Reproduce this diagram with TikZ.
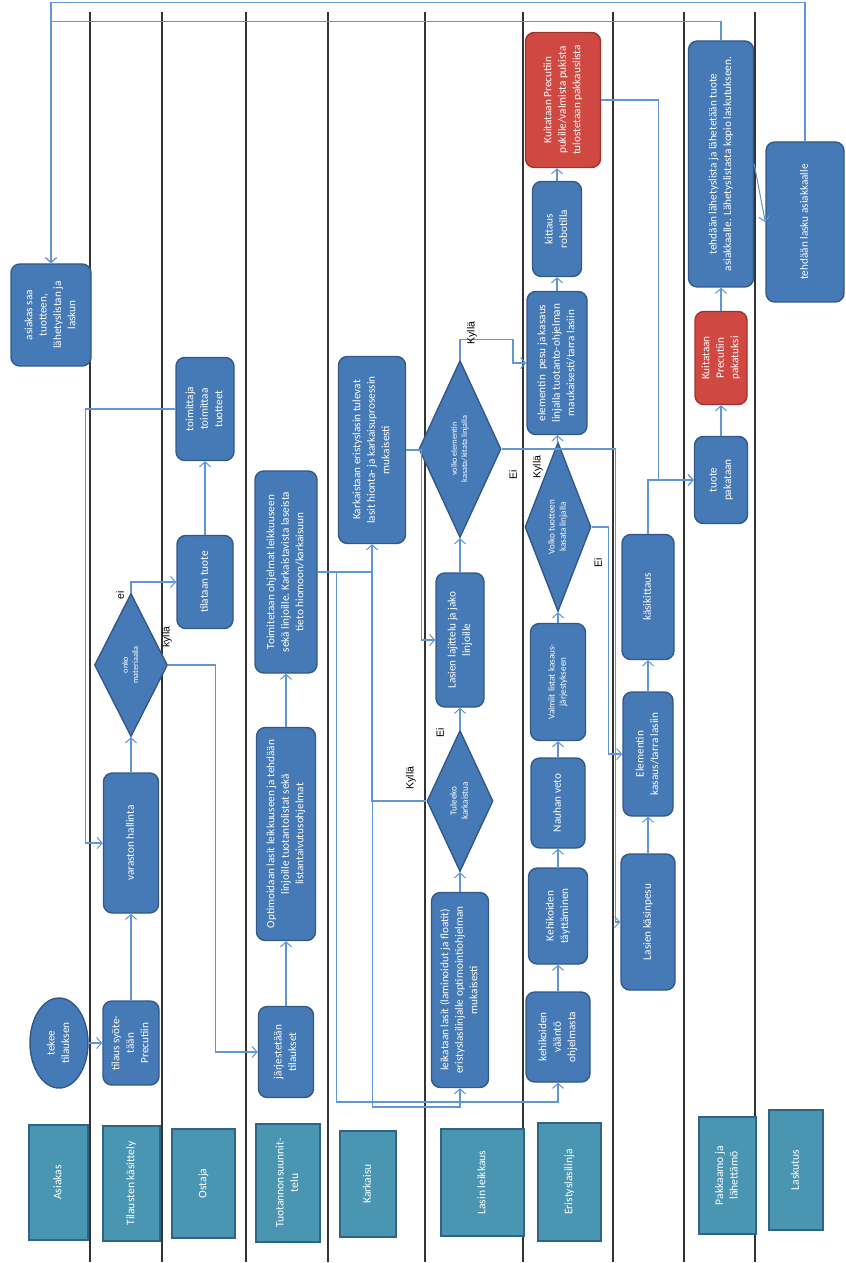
\documentclass[tikz,border=0pt]{standalone}
\usepackage{fontspec}
\setmainfont{Carlito}
\newfontfamily\lblfont{Liberation Sans}
\usepackage{graphicx}
\usetikzlibrary{shapes.geometric,arrows.meta}

\definecolor{procfill}{RGB}{70,122,182}
\definecolor{procline}{RGB}{50,88,138}
\definecolor{redfill}{RGB}{208,72,66}
\definecolor{redline}{RGB}{160,50,45}
\definecolor{lanefill}{RGB}{74,150,178}
\definecolor{laneline}{RGB}{48,100,132}
\definecolor{flowline}{RGB}{96,150,214}

\newcommand{\rt}[1]{\rotatebox{90}{\begin{tabular}{@{}c@{}}#1\end{tabular}}}

\tikzset{
  dims/.style 2 args={minimum width=#1*0.02cm, minimum height=#2*0.02cm},
  proc/.style={draw=procline, fill=procfill, line width=0.8pt, rounded corners=5pt, text=white, inner sep=1pt, font=\fontsize{6.4}{8.2}\selectfont},
  alert/.style={proc, draw=redline, fill=redfill},
  decision/.style={diamond, aspect=0.5, draw=procline, fill=procfill, line width=0.8pt, text=white, inner sep=0pt, font=\fontsize{5.2}{6.4}\selectfont},
  oval/.style={ellipse, draw=procline, fill=procfill, line width=0.8pt, text=white, inner sep=0pt, font=\fontsize{6.4}{8.2}\selectfont},
  lanehead/.style={draw=laneline, fill=lanefill, line width=1pt, text=white, inner sep=1pt, font=\fontsize{6.6}{8.2}\selectfont},
  lane/.style={draw=black!80, line width=0.7pt},
  flow/.style={draw=flowline, line width=0.6pt, ->},
  answer/.style={rotate=90, inner sep=0pt, font=\lblfont\fontsize{6}{7}\selectfont},
  tiny/.style={font=\fontsize{4.7}{5.8}\selectfont},
  small/.style={font=\fontsize{5.2}{6.4}\selectfont},
}

\begin{document}
\begin{tikzpicture}[x=0.02cm, y=-0.02cm, >={Straight Barb[length=1mm,width=2.2mm]}]
\useasboundingbox (0,0) rectangle (845,1263);

\foreach \lx in {90,162,246,328,425,523,613,684,755}
  \draw[lane] (\lx,12) -- (\lx,1262);

\node[lanehead, dims={59}{115}] (hAsiakas) at (58.5,1182.5) {\rt{Asiakas}};
\node[lanehead, dims={57}{115}] (hTilaus) at (131.5,1183.5) {\rt{Tilausten käsittely}};
\node[lanehead, dims={63}{109}] (hOstaja) at (203.5,1183.5) {\rt{Ostaja}};
\node[lanehead, dims={64}{118}] (hSuunnittelu) at (288,1183) {\rt{Tuotannonsuunnit-\\telu}};
\node[lanehead, dims={56}{106}] (hKarkaisu) at (368,1184) {\rt{Karkaisu}};
\node[lanehead, dims={83}{107}] (hLeikkaus) at (482.5,1182.5) {\rt{Lasin leikkaus}};
\node[lanehead, dims={63}{118}] (hEristys) at (569.5,1182) {\rt{Eristyslasilinja}};
\node[lanehead, dims={57}{117}] (hPakkaamo) at (727.5,1175.5) {\rt{Pakkaamo ja\\lähettämö}};
\node[lanehead, dims={54}{120}] (hLaskutus) at (796,1170) {\rt{Laskutus}};

\node[oval, dims={58}{90}] (tekee) at (59,1043) {\rt{tekee\\tilauksen}};
\node[proc, dims={56}{84}] (tilaus) at (131,1043) {\rt{tilaus syöte-\\tään\\Precutiin}};
\node[proc, dims={55}{140}] (varasto) at (131,843) {\rt{varaston hallinta}};
\node[decision, tiny, dims={73}{143}] (onko) at (131,665) {\rt{onko\\materiaalia}};
\node[proc, dims={56}{93}] (tilataan) at (205,582) {\rt{tilataan tuote}};
\node[proc, dims={58}{103}] (toimittaja) at (205,409) {\rt{toimittaja\\toimittaa\\tuotteet}};
\node[proc, dims={80}{102}] (asiakassaa) at (51,315) {\rt{asiakas saa\\tuotteen,\\lähetyslistan ja\\laskun}};

\node[proc, dims={55}{91}] (jarjestys) at (286,1052) {\rt{järjestetään\\tilaukset}};
\node[proc, dims={59}{213}] (optimointi) at (286,834) {\rt{Optimoidaan lasit leikkuuseen ja tehdään\\linjoille tuotantolistat sekä\\listantaivutusohjelmat}};
\node[proc, dims={62}{202}] (ohjelmat) at (286,572) {\rt{Toimitetaan ohjelmat leikkuuseen\\sekä linjoille. Karkaistavista laseista\\tieto hiomoon/karkaisuun}};
\node[proc, dims={67}{187}] (karkaisu) at (372,450) {\rt{Karkaistaan eristyslasin tulevat\\lasit hionta- ja karkaisuprosessin\\mukaisesti}};

\node[proc, dims={57}{195}] (leikkaus) at (460,990) {\rt{leikataan lasit (laminoidut ja floatit)\\eristyslasilinjalle optimointiohjelman\\mukaisesti}};
\node[decision, dims={66}{141}] (tuleeko) at (460,801) {\rt{Tuleeko\\karkaistua}};
\node[proc, dims={48}{134}] (lajittelu) at (460,640) {\rt{Lasien lajittelu ja jako\\linjoille}};
\node[decision, tiny, dims={82}{177}] (volkoelem) at (460,449) {\rt{volko elementin\\kasata/kitata linjalla}};

\node[proc, dims={64}{90}] (vaanto) at (558,1037) {\rt{kehikoiden\\vääntö\\ohjelmasta}};
\node[proc, dims={59}{96}] (taytto) at (558,916) {\rt{Kehikoiden\\täyttäminen}};
\node[proc, dims={54}{90}] (nauha) at (558,803) {\rt{Nauhan veto}};
\node[proc, small, dims={55}{117}] (listat) at (558,682) {\rt{Valmiit listat kasaus-\\järjestykseen}};
\node[decision, dims={66}{169}] (volkotuote) at (558,527) {\rt{Volko tuotteen\\kasata linjalla}};
\node[proc, dims={60}{143}] (pesu) at (557,363) {\rt{elementin\ \ pesu ja kasaus\\linjalla tuotanto-ohjelman\\maukaisesti/tarra lasiin}};
\node[proc, dims={49}{95}] (kittaus) at (557,229) {\rt{kittaus\\robotilla}};
\node[alert, dims={75}{135}] (pukki) at (563,100) {\rt{Kuitataan Precutiin\\pukille/valmista pukista\\tulostetaan pakkauslista}};

\node[proc, dims={54}{136}] (kasinpesu) at (648,922) {\rt{Lasien käsinpesu}};
\node[proc, dims={50}{124}] (kasaus) at (648,754) {\rt{Elementin\\kasaus/tarra lasiin}};
\node[proc, dims={52}{125}] (kasikittaus) at (648,597) {\rt{käsikittaus}};

\node[proc, dims={53}{87}] (pakataan) at (721,480) {\rt{tuote\\pakataan}};
\node[alert, dims={52}{93}] (pakatuksi) at (721,358) {\rt{Kuitataan\\Precutiin\\pakatuksi}};
\node[proc, dims={65}{246}] (lahetys) at (721,164) {\rt{tehdään lähetyslista ja lähetetään tuote\\asiakkaalle. Lähetyslistasta kopio laskutukseen.}};
\node[proc, dims={78}{160}] (lasku) at (805,222) {\rt{tehdään lasku asiakkaalle}};

\draw[flow] (tekee) -- (tilaus);
\draw[flow] (tilaus) -- (varasto);
\draw[flow] (varasto) -- (onko);
\draw[flow] (onko.north) |- (tilataan.west);
\draw[flow] (onko.east) -- ++(47,0) |- (jarjestys.west);
\draw[flow] (tilataan) -- (toimittaja);
\draw[flow] (toimittaja.west) -- ++(-90,0) |- (varasto.west);

\draw[flow] (jarjestys) -- (optimointi);
\draw[flow] (optimointi) -- (ohjelmat);
\draw[flow] (ohjelmat.east) -| ++(55,535) -| (leikkaus.south);
\draw[flow] (ohjelmat.east) -| ++(19,530) -| (vaanto.south);
\draw[flow] (tuleeko.west) -| (karkaisu.south);
\draw[flow] (leikkaus) -- (tuleeko);
\draw[flow] (tuleeko) -- (lajittelu);
\draw[flow] (karkaisu.east) -- ++(15,0) |- (lajittelu.west);
\draw[flow] (lajittelu) -- (volkoelem);
\draw[flow] (volkoelem.north) |- ++(53,-20) |- (pesu.west);
\draw[flow] (volkoelem.east) -- ++(114,0) |- (kasinpesu.west);

\draw[flow] (vaanto) -- (taytto);
\draw[flow] (taytto) -- (nauha);
\draw[flow] (nauha) -- (listat);
\draw[flow] (listat) -- (volkotuote);
\draw[flow] (volkotuote) -- (pesu);
\draw[flow] (volkotuote.east) -- ++(17,0) |- (kasaus.west);
\draw[flow] (pesu) -- (kittaus);
\draw[flow] (kittaus.north) -- (kittaus.north |- pukki.south);
\draw[flow] (pukki.east) -- ++(57,0) |- (pakataan.west);

\draw[flow] (kasinpesu) -- (kasaus);
\draw[flow] (kasaus) -- (kasikittaus);
\draw[flow] (kasikittaus.north) |- (pakataan.west);

\draw[flow] (pakataan) -- (pakatuksi);
\draw[flow] (pakatuksi) -- (lahetys);
\draw[flow] (lahetys.east) -- (lasku.west);
\draw[flow] (lahetys.north) |- ++(-670,-19) -- (asiakassaa.north);
\draw[flow] (lasku.north) |- ++(-754,-139) -- (asiakassaa.north);

\node[answer] (onkoEi) at (120,595) {ei};
\node[answer] (onkoKylla) at (167,637) {kyllä};
\node[answer] (tuleekoKylla) at (411,778) {Kyllä};
\node[answer] (tuleekoEi) at (440,733) {Ei};
\node[answer] (volkoKylla) at (472,333) {Kyllä};
\node[answer] (volkoEi) at (513,475) {Ei};
\node[answer] (tuoteKylla) at (538,467) {Kyllä};
\node[answer] (tuoteEi) at (598,563) {Ei};
\end{tikzpicture}
\end{document}
